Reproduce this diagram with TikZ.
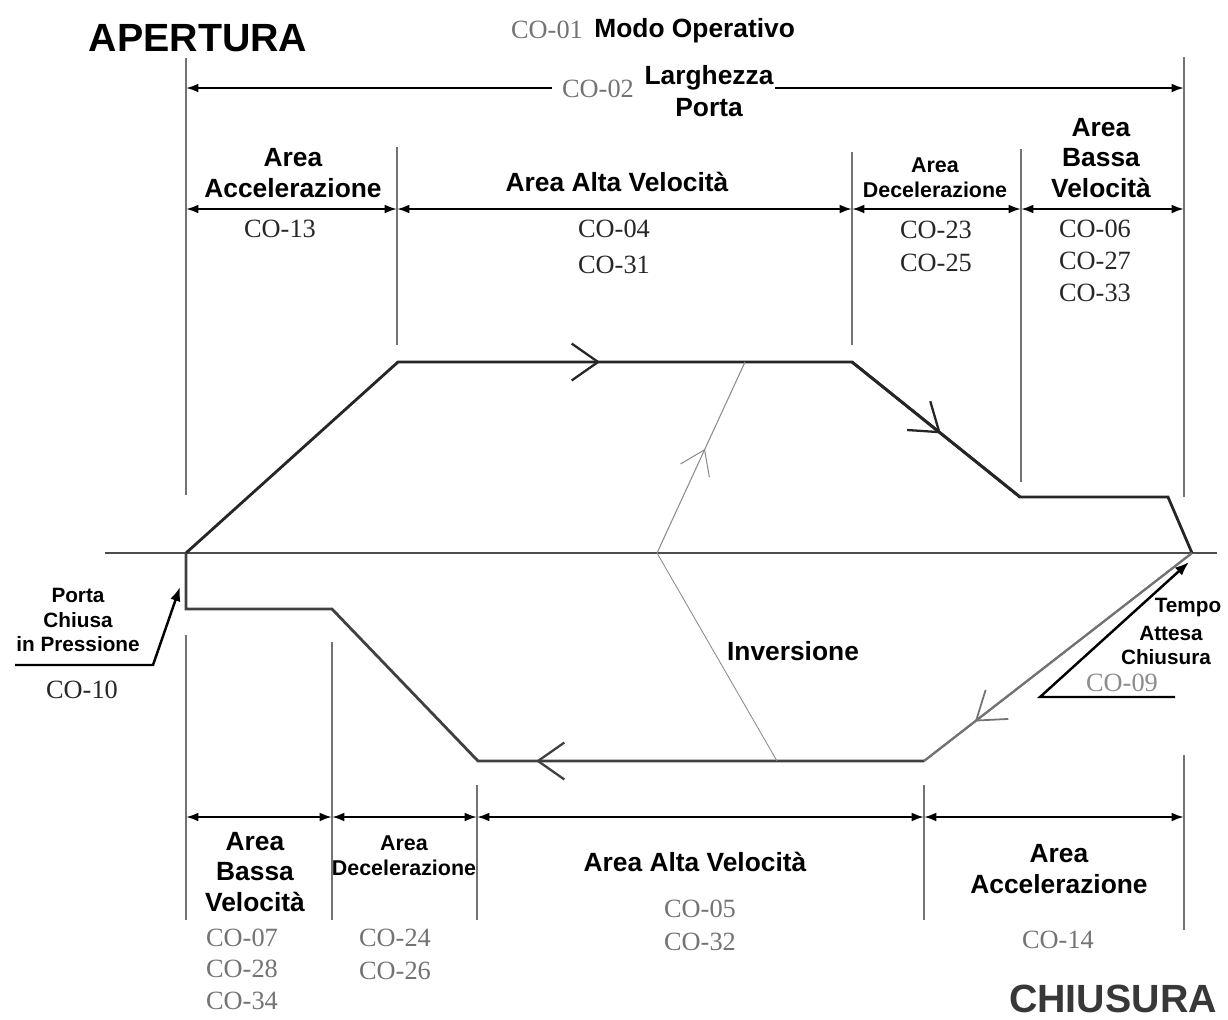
\documentclass[tikz,border=0pt]{standalone}
\usepackage{fontspec}
\setmainfont{Liberation Serif}
\newfontfamily\labfont{Liberation Sans}
\usetikzlibrary{arrows.meta,decorations.markings}
\definecolor{cdark}{gray}{0.15}
\definecolor{cgray}{gray}{0.45}
\definecolor{guidec}{gray}{0.45}
\begin{document}
\begin{tikzpicture}[x=0.02cm,y=-0.02cm,
  lab/.style={font=\labfont\bfseries\fontsize{15}{#1}\selectfont,align=center,inner sep=0pt},
  lab/.default=17.6,
  smalllab/.style={font=\labfont\bfseries\fontsize{12.2}{#1}\selectfont,align=center,inner sep=0pt},
  smalllab/.default=14.2,
  tinylab/.style={font=\labfont\bfseries\fontsize{11.8}{14.2}\selectfont,inner sep=0pt},
  biglab/.style={font=\labfont\bfseries\fontsize{22.4}{26}\selectfont,inner sep=0pt},
  code/.style={font=\fontsize{15}{#1}\selectfont,align=center,inner sep=0pt,text=cdark},
  code/.default=18.7,
  codeg/.style={code=#1,text=cgray},
  codeg/.default=18.7,
  guide/.style={draw=guidec,line width=0.6pt},
  dimline/.style={line width=1.2pt},
  dim/.style={dimline,{Latex[length=7pt,width=5pt]}-{Latex[length=7pt,width=5pt]}},
  profile/.style={line width=1.6pt,line join=miter},
  openarr/.style={postaction={decorate},decoration={markings,
     mark=at position #1 with {\arrow{Straight Barb[length=15pt,width=21pt,line width=1.3pt]}}}},
  thinarr/.style={postaction={decorate},decoration={markings,
     mark=at position #1 with {\arrow{Straight Barb[length=13pt,width=18pt,line width=0.6pt]}}}}
]
\useasboundingbox (0,0) rectangle (1228,1019);

% ---------- titles ----------
\node[biglab] (apertura) at (198,38) {APERTURA};
\node[biglab,text=black!78] (chiusura) at (1113,999) {CHIUSURA};
\node[codeg] (co01) at (547,30) {CO-01};
\node[lab,anchor=west] (modo) at (594,31) {Modo Operativo};

% ---------- door width ----------
\coordinate (wL) at (186,88);
\coordinate (wLe) at (552,88);
\coordinate (wRs) at (775,88);
\coordinate (wR) at (1184,88);
\draw[dimline,{Latex[length=7pt,width=5pt]}-] (wL) -- (wLe);
\draw[dimline,-{Latex[length=7pt,width=5pt]}] (wRs) -- (wR);
\node[codeg] (co02) at (598,89) {CO-02};
\node[lab=18.2] (larg) at (709,91) {Larghezza\\Porta};

% ---------- guide lines ----------
\draw[guide] (186,58) -- (186,495);
\draw[guide] (397,147) -- (397,345);
\draw[guide] (852,152) -- (852,345);
\draw[guide] (1021,149) -- (1021,482);
\draw[guide] (1184,57) -- (1184,497);
\draw[guide] (186,635) -- (186,920);
\draw[guide] (332,642) -- (332,920);
\draw[guide] (477,785) -- (477,920);
\draw[guide] (924,785) -- (924,920);
\draw[guide] (1184,755) -- (1184,930);

% ---------- opening areas (top) ----------
\coordinate (tA) at (186,209);
\coordinate (tB) at (397,209);
\coordinate (tC) at (852,209);
\coordinate (tD) at (1021,209);
\coordinate (tE) at (1184,209);
\draw[dim] (tA) -- (tB);
\draw[dim] (tB) -- (tC);
\draw[dim] (tC) -- (tD);
\draw[dim] (tD) -- (tE);

\node[lab] (tacc) at (293,173) {Area\\Accelerazione};
\node[code] (co13) at (280,229) {CO-13};
\node[lab] (talta) at (617,182) {Area Alta Velocità};
\node[code=20.4] (co04) at (614,247) {CO-04\\CO-31};
\node[smalllab] (tdec) at (935,178) {Area\\Decelerazione};
\node[code] (co23) at (936,246) {CO-23\\CO-25};
\node[lab] (tbassa) at (1101,158) {Area\\Bassa\\Velocità};
\node[code=18.4] (co06) at (1095,261) {CO-06\\CO-27\\CO-33};

% ---------- closing areas (bottom) ----------
\coordinate (bA) at (186,817);
\coordinate (bB) at (332,817);
\coordinate (bC) at (477,817);
\coordinate (bD) at (924,817);
\coordinate (bE) at (1184,817);
\draw[dim] (bA) -- (bB);
\draw[dim] (bB) -- (bC);
\draw[dim] (bC) -- (bD);
\draw[dim] (bD) -- (bE);

\node[lab] (bbassa) at (255,872) {Area\\Bassa\\Velocità};
\node[codeg=17.9] (co07) at (242,969) {CO-07\\CO-28\\CO-34};
\node[smalllab] (bdec) at (404,856) {Area\\Decelerazione};
\node[codeg] (co24) at (395,954) {CO-24\\CO-26};
\node[lab] (balta) at (695,862) {Area Alta Velocità};
\node[codeg] (co05) at (700,925) {CO-05\\CO-32};
\node[lab] (bacc) at (1059,869) {Area\\Accelerazione};
\node[codeg] (co14) at (1058,940) {CO-14};

% ---------- base line ----------
\coordinate (base0) at (105,553);
\coordinate (base1) at (1217,553);
\draw[draw=black!70,line width=0.6pt] (base0) -- (base1);

% ---------- speed profile ----------
\coordinate (P0) at (186,553);
\coordinate (P1) at (398,362);
\coordinate (P2) at (852,362);
\coordinate (P3) at (1020,497);
\coordinate (P4) at (1168,497);
\coordinate (P5) at (1192,553);
\coordinate (Q1) at (186,609);
\coordinate (Q2) at (332,609);
\coordinate (Q3) at (478,761);
\coordinate (Q4) at (924,761);

\draw[profile,black!85] (P0) -- (P1) -- (P2) -- (P3) -- (P4) -- (P5);
\draw[profile,black!75] (P0) -- (Q1) -- (Q2) -- (Q3) -- (Q4);
\draw[draw=black!55,line width=1.2pt] (P5) -- (Q4);

\path[draw=black!85,line width=1.6pt,openarr=0.445] (P1) -- (P2);
\path[draw=black!85,line width=1.6pt,openarr=0.53] (P2) -- (P3);
\path[draw=black!75,line width=1.6pt,openarr=0.87] (Q4) -- (Q3);
\path[draw=black!55,line width=1.2pt,postaction={decorate},decoration={markings,mark=at position 0.81 with {\arrow[black!55]{Straight Barb[length=15pt,width=21pt,line width=1pt]}}}] (P5) -- (Q4);

% ---------- inversion ----------
\coordinate (I0) at (657,553);
\coordinate (I1) at (745,362);
\coordinate (I2) at (777,761);
\draw[draw=black!45,line width=0.6pt,thinarr=0.545] (I0) -- (I1);
\draw[draw=black!45,line width=0.5pt] (I0) -- (I2);
\node[lab] (inv) at (793,651) {Inversione};

% ---------- porta chiusa in pressione ----------
\node[tinylab,align=center] (porta) at (78,620) {Porta\\Chiusa\\in Pressione};
\node[code] (co10) at (82,690) {CO-10};
\coordinate (pc0) at (15,665);
\coordinate (pc1) at (153,665);
\coordinate (pc2) at (180,587);
\draw[line width=1.4pt,line join=miter,-{Latex[length=8pt,width=6pt]}] (pc0) -- (pc1) -- (pc2);

% ---------- tempo attesa chiusura ----------
\node[tinylab] (tempo) at (1188,608) {Tempo};
\node[tinylab] (attesa) at (1171,633) {Attesa};
\node[tinylab] (chius) at (1166,657) {Chiusura};
\node[codeg,text=black!45] (co09) at (1122,683) {CO-09};
\coordinate (ta0) at (1175,697);
\coordinate (ta1) at (1040,697);
\coordinate (ta2) at (1189,562);
\draw[line width=1.4pt,line join=miter,-{Latex[length=8pt,width=6pt]}] (ta0) -- (ta1) -- (ta2);

\end{tikzpicture}
\end{document}
